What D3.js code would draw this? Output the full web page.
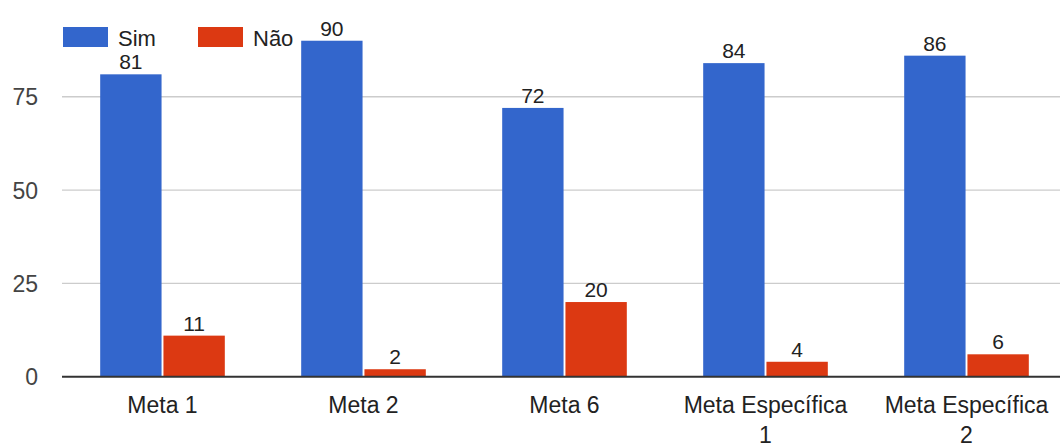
<!DOCTYPE html>
<html>
<head>
<meta charset="utf-8">
<script src="https://cdn.jsdelivr.net/npm/d3@7"></script>
<style>
  html, body { margin: 0; padding: 0; background: #fff; }
  svg { display: block; font-family: "Liberation Sans", Arial, sans-serif; }
</style>
</head>
<body>
<svg id="chart" width="1060" height="447"></svg>
<script>
// Goal categories (x axis), each label split into its display lines
const categories = ["Meta 1", "Meta 2", "Meta 6", "Meta Específica 1", "Meta Específica 2"];
const categoryLines = [["Meta 1"], ["Meta 2"], ["Meta 6"], ["Meta Específica", "1"], ["Meta Específica", "2"]];
const seriesNames = ["Sim", "Não"];
const simValues = [81, 90, 72, 84, 86];
const naoValues = [11, 2, 20, 4, 6];
const yTicks = [0, 25, 50, 75];
const colors = ["#3366cc", "#dc3912"];

const svg = d3.select("#chart");

const y = d3.scaleLinear().domain([0, 100]).range([376.7, 3.4]);
const x0 = d3.scaleBand().domain(categories).range([62, 1067])
  .paddingInner(0.38).paddingOuter(0.19);
const x1 = d3.scaleBand().domain(seriesNames).range([0, x0.bandwidth()]).paddingInner(0.03);

const rows = categories.map((c, i) => ({
  cat: c,
  lines: categoryLines[i],
  vals: [
    { s: seriesNames[0], v: simValues[i] },
    { s: seriesNames[1], v: naoValues[i] }
  ]
}));

// Gridlines
svg.append("g")
  .selectAll("line")
  .data(yTicks.filter(t => t !== 0))
  .join("line")
  .attr("x1", 62).attr("x2", 1060)
  .attr("y1", d => y(d)).attr("y2", d => y(d))
  .attr("stroke", "#cccccc").attr("stroke-width", 1.3);

// Y axis labels
const yAxis = d3.axisLeft(y).tickValues(yTicks).tickSize(0).tickPadding(0).tickFormat(d3.format("d"));
const yg = svg.append("g").attr("transform", "translate(38,0)").call(yAxis);
yg.select(".domain").remove();
yg.selectAll("text")
  .attr("font-size", 23).attr("fill", "#444").attr("dy", "0.35em")
  .attr("font-family", "Liberation Sans, Arial, sans-serif");

// Bars
const groups = svg.append("g").selectAll("g")
  .data(rows).join("g")
  .attr("transform", d => `translate(${x0(d.cat)},0)`);

groups.selectAll("rect")
  .data(d => d.vals).join("rect")
  .attr("x", d => x1(d.s))
  .attr("width", x1.bandwidth())
  .attr("y", d => y(d.v))
  .attr("height", d => y(0) - y(d.v))
  .attr("fill", (d, i) => colors[i]);

// Value labels
groups.selectAll("text.val")
  .data(d => d.vals).join("text")
  .attr("class", "val")
  .attr("x", d => x1(d.s) + x1.bandwidth() / 2)
  .attr("y", d => y(d.v) - 5)
  .attr("text-anchor", "middle")
  .attr("font-size", 21)
  .attr("fill", "#222")
  .text(d => d.v);

// Baseline
svg.append("line")
  .attr("x1", 62).attr("x2", 1060)
  .attr("y1", y(0)).attr("y2", y(0))
  .attr("stroke", "#333").attr("stroke-width", 2);

// X axis category labels
const xl = svg.append("g").selectAll("text")
  .data(rows).join("text")
  .attr("x", d => x0(d.cat) + x0.bandwidth() / 2)
  .attr("y", 413)
  .attr("text-anchor", "middle")
  .attr("font-size", 23)
  .attr("fill", "#222");
xl.selectAll("tspan")
  .data(d => d.lines.map(l => ({ l, x: x0(d.cat) + x0.bandwidth() / 2 })))
  .join("tspan")
  .attr("x", d => d.x)
  .attr("dy", (d, i) => i === 0 ? 0 : 30)
  .text(d => d.l);

// Legend
const legendX = [63, 198];
const leg = svg.append("g").selectAll("g")
  .data(seriesNames).join("g")
  .attr("transform", (d, i) => `translate(${legendX[i]},27)`);
leg.append("rect")
  .attr("width", 45).attr("height", 20)
  .attr("fill", (d, i) => colors[i]);
leg.append("text")
  .attr("x", 55).attr("y", 19)
  .attr("font-size", 22).attr("fill", "#222")
  .text(d => d);
</script>
</body>
</html>
